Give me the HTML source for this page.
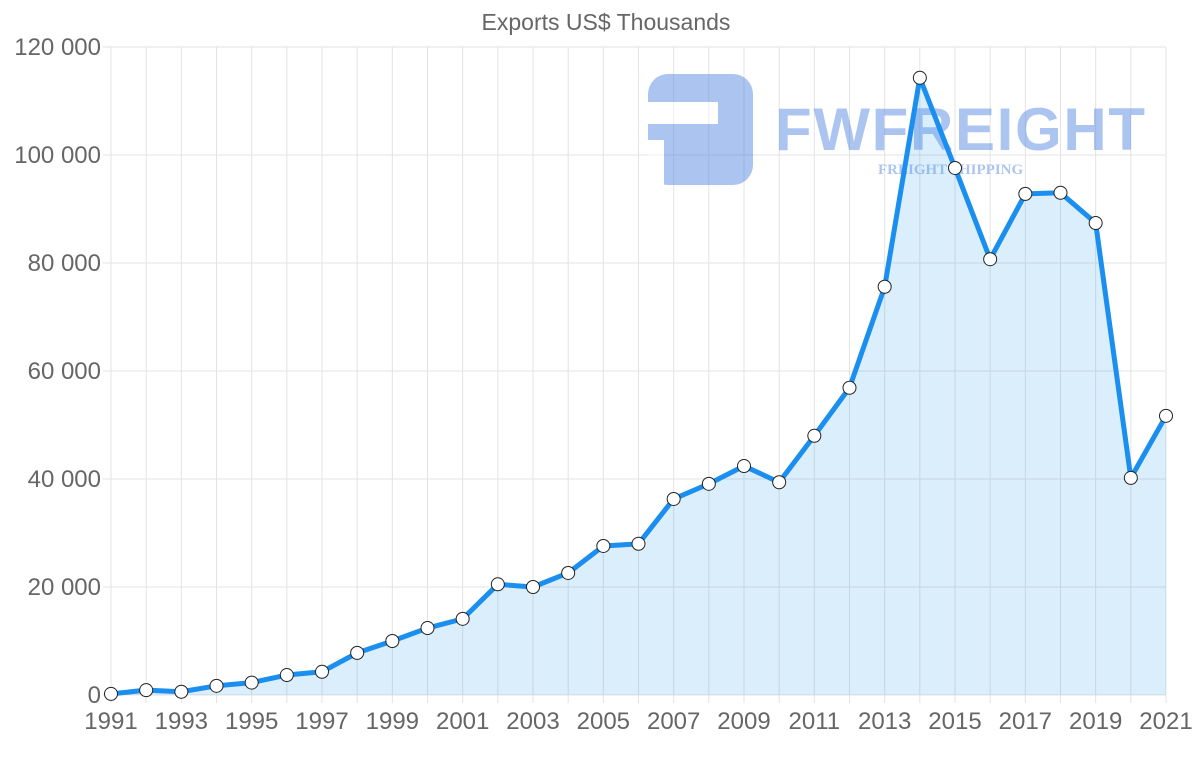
<!DOCTYPE html>
<html><head><meta charset="utf-8"><style>
body{margin:0;background:#fff;font-family:"Liberation Sans",sans-serif}
svg{display:block}
</style></head><body>
<svg id="chart" width="1200" height="763" xmlns="http://www.w3.org/2000/svg">
<text x="606" y="30" text-anchor="middle" font-size="23" fill="#666">Exports US$ Thousands</text>
<g id="grid"></g>
<g opacity="0.45">
<rect x="648" y="74" width="105" height="111" rx="20" fill="#4a7fe0"/>
<rect x="648" y="102" width="70" height="22" fill="#fff"/>
<rect x="648" y="140" width="16" height="45" fill="#fff"/>
<text x="775" y="150" font-size="60" font-weight="bold" fill="#4a7fe0" textLength="370">FWFREIGHT</text>
<text x="878" y="174" font-size="15" font-family="Liberation Serif" font-weight="bold" fill="#4a7fe0">FREIGHT SHIPPING</text>
</g>
<g id="series"></g>
</svg>
<script>
const years=[];for(let y=1991;y<=2021;y++)years.push(y);
const values=[200,900,600,1700,2300,3700,4300,7800,10000,12400,14100,20500,20000,22600,27600,28000,36300,39100,42400,39400,48000,56900,75600,114300,97600,80700,92800,93000,87400,40200,51700];
const yTicks=[0,20000,40000,60000,80000,100000,120000];
const yLabels=["0","20 000","40 000","60 000","80 000","100 000","120 000"];
const X0=111,X1=1166,Y0=695,Y1=47;
const xs=i=>X0+(X1-X0)*i/(years.length-1);
const ys=v=>Y0-(Y0-Y1)*v/120000;
const NS="http://www.w3.org/2000/svg";
function mk(t,a,p){const e=document.createElementNS(NS,t);for(const k in a)e.setAttribute(k,a[k]);p.appendChild(e);return e;}
const g=document.getElementById('grid'),s=document.getElementById('series');
yTicks.forEach((v,i)=>{
const l=mk('line',{x1:X0-8,x2:X1,y1:ys(v),y2:ys(v),stroke:'#e3e3e3'},g);


const t=mk('text',{x:101,y:ys(v)+8,'text-anchor':'end','font-size':24,fill:'#666'},g);
t.textContent=yLabels[i];


});
years.forEach((y,i)=>{
const l=mk('line',{x1:xs(i),x2:xs(i),y1:Y1,y2:Y0+8,stroke:'#e3e3e3'},g);


if(i%2===0){const t=mk('text',{x:xs(i),y:729,'text-anchor':'middle','font-size':24,fill:'#666'},g);
t.textContent=y;

}
});
let d=values.map((v,i)=>(i?'L':'M')+xs(i)+','+ys(v)).join(' ');
const area=mk('path',{d:d+` L${X1},${Y0} L${X0},${Y0} Z`,fill:'rgba(54,162,235,0.18)'},s);


const line=mk('path',{d:d,fill:'none',stroke:'#1a8ff0','stroke-width':5,'stroke-linejoin':'round'},s);


values.forEach((v,i)=>{
const c=mk('circle',{cx:xs(i),cy:ys(v),r:6.5,fill:'#fff',stroke:'#222','stroke-width':1},s);


});
</script>
</body></html>
